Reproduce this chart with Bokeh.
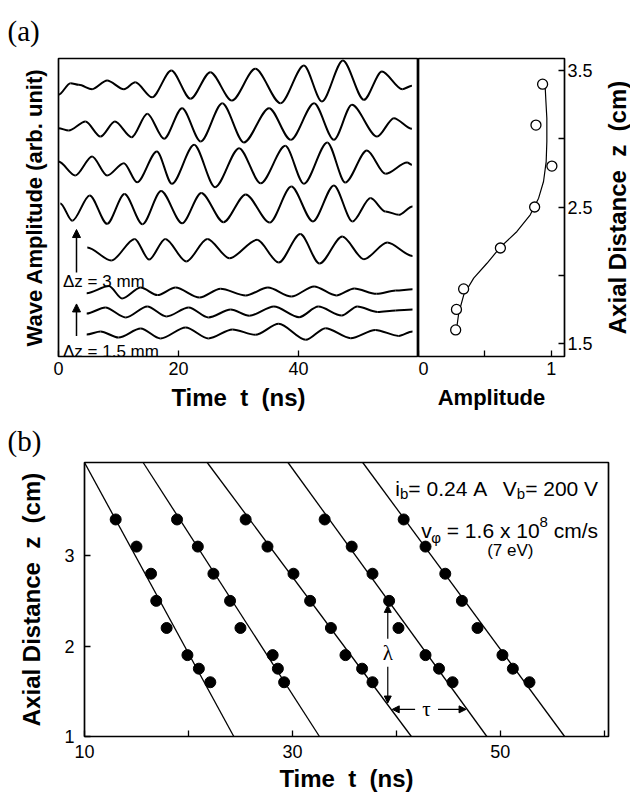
import math
from bokeh.plotting import figure
from bokeh.layouts import column, row
from bokeh.models import Label, Arrow, NormalHead, FixedTicker, Range1d
from bokeh.embed import file_html
from bokeh.resources import INLINE

SANS = "Liberation Sans"
SERIF = "Liberation Serif"
NB = "\u00a0"

# ---------------- data ----------------
# probe positions (axial distance z, cm)
z_probe = [3.4, 3.1, 2.8, 2.5, 2.2, 1.9, 1.75, 1.6]
# (a) right: normalised wave amplitude at each probe
amp_meas = [0.935, 0.885, 1.005, 0.875, 0.617, 0.34, 0.286, 0.28]
amp_fit_a = [0.286, 0.303, 0.341, 0.416, 0.516, 0.617, 0.742, 0.842, 0.905, 0.942, 0.962, 0.967, 0.967, 0.96, 0.955]
amp_fit_z = [1.60, 1.722, 1.857, 1.979, 2.088, 2.206, 2.321, 2.443, 2.565, 2.687, 2.833, 2.98, 3.15, 3.273, 3.37]

# (a) left: wave traces (turning points: time ns, signal arb. unit), one per probe
wave_t0 = [0.0, 2.0, 3.4, 5.6, 8.1, 10.9, 12.8, 15.6, 18.8, 22.0, 25.3, 28.9, 32.8, 37.0, 40.9, 43.9, 47.4, 50.9, 53.9, 57.3, 58.9]
wave_s0 = [-0.78, 0.07, -0.05, -0.37, 0.27, -0.37, 0.14, -0.96, 1.0, -1.07, 0.88, -1.2, 1.12, -1.4, 1.37, -1.27, 1.73, -1.15, 0.93, -0.37, -0.12]
wave_t1 = [0.0, 1.7, 4.5, 7.0, 9.4, 12.2, 14.8, 17.6, 20.6, 23.7, 27.3, 30.9, 35.1, 38.7, 42.6, 45.9, 48.9, 53.1, 55.9, 58.9]
wave_s1 = [-0.23, -0.4, 0.26, -0.84, 0.26, -0.89, 0.83, -1.0, 1.24, -1.2, 1.6, -1.27, 1.24, -1.08, 1.6, -1.08, 1.49, -0.84, 0.51, -0.27]
wave_t2 = [0.0, 2.8, 5.6, 8.1, 10.9, 13.1, 16.4, 18.9, 22.6, 26.1, 30.1, 33.7, 37.8, 40.9, 44.8, 47.8, 51.4, 54.5, 58.1, 58.9]
wave_s2 = [0.33, -0.69, 0.7, -0.69, 0.21, -1.19, 1.07, -1.3, 1.56, -1.55, 1.31, -1.26, 1.48, -1.3, 1.73, -1.21, 1.14, -0.57, 0.26, 0.09]
wave_t3 = [0.3, 2.3, 5.2, 8.1, 11.0, 14.0, 17.1, 20.6, 23.8, 27.5, 31.2, 35.2, 38.8, 42.4, 45.9, 49.0, 52.0, 54.5, 56.7, 59.0]
wave_s3 = [0.26, -1.01, 0.84, -1.23, 0.95, -1.26, 1.17, -1.19, 1.03, -1.11, 0.92, -1.14, 1.5, -1.06, 1.58, -1.06, 0.66, -0.33, -0.57, 0.04]
wave_t4 = [4.8, 8.8, 12.7, 15.1, 17.8, 21.3, 24.8, 28.5, 33.1, 36.7, 40.3, 43.5, 47.3, 50.9, 54.8, 59.0]
wave_s4 = [0.03, -0.92, 0.66, -0.85, 0.66, -0.99, 0.66, -0.75, 0.6, -1.07, 1.02, -1.14, 0.84, -0.82, 0.4, -0.58]
wave_t5 = [4.7, 8.4, 10.6, 13.7, 16.5, 19.5, 23.5, 27.0, 31.2, 34.9, 38.8, 42.6, 46.3, 49.3, 53.0, 56.2, 59.0]
wave_s5 = [-0.31, 0.21, -0.7, 0.1, -0.45, 0.1, -0.63, 0.01, -0.48, 0.1, -0.56, 0.18, -0.48, 0.03, -0.36, -0.12, -0.02]
wave_t6 = [4.7, 7.8, 11.2, 14.8, 18.0, 21.7, 25.0, 28.7, 31.8, 35.9, 40.1, 43.3, 47.2, 49.8, 53.2, 56.2, 59.0]
wave_s6 = [-0.30, 0.14, -0.59, 0.21, -0.52, 0.14, -0.59, -0.01, -0.47, 0.21, -0.57, 0.21, -0.45, 0.21, -0.19, -0.08, -0.01]
wave_t7 = [4.7, 7.0, 10.0, 13.7, 17.0, 21.2, 25.0, 29.0, 32.8, 36.7, 41.2, 44.5, 48.7, 52.8, 56.7, 59.0]
wave_s7 = [-0.34, -0.12, -0.56, 0.1, -0.63, 0.17, -0.63, 0.03, -0.36, 0.44, -0.73, 0.12, -0.61, 0.0, -0.44, -0.12]
wave_t = [wave_t0, wave_t1, wave_t2, wave_t3, wave_t4, wave_t5, wave_t6, wave_t7]
wave_s = [wave_s0, wave_s1, wave_s2, wave_s3, wave_s4, wave_s5, wave_s6, wave_s7]
WAVE_SCALE = 0.1   # signal unit -> axis unit

# (b) phase fronts: arrival time (ns) of a constant phase at each probe
front_t1 = [13.0, 15.0, 16.4, 16.9, 17.9, 19.9, 21.0, 22.1]
front_t2 = [18.9, 20.9, 22.4, 24.0, 25.0, 28.1, 28.6, 29.2]
front_t3 = [25.5, 27.6, 30.1, 31.7, 33.7, 35.1, 36.7, 37.7]
front_t4 = [33.1, 35.7, 37.7, 39.3, 40.2, 42.8, 44.1, 45.4]
front_t5 = [40.7, 42.8, 44.7, 46.3, 47.8, 50.2, 51.2, 52.8]
fronts = [front_t1, front_t2, front_t3, front_t4, front_t5]
# straight-line fits: time at z = fit_z[0] and z = fit_z[1]
fit_z = [4.03, 1.0]
fit_t_top = [10.0, 15.64, 21.8, 29.57, 36.76]
fit_t_bot = [24.36, 32.6, 41.44, 48.7, 56.18]

# tick labels
a_time_ticks = {0: "0", 20: "20", 40: "40", 60: ""}
a_amp_ticks = {0: "0", 0.5: "", 1: "1"}
a_z_ticks = {1.5: "1.5", 2: "", 2.5: "2.5", 3: "", 3.5: "3.5"}
b_time_ticks = {10: "10", 20: "", 30: "30", 40: "", 50: "50", 60: ""}
b_z_ticks = {1: "1", 2: "2", 3: "3"}

TIME_LABEL = "Time" + NB * 2 + "t" + NB * 2 + "(ns)"
Z_LABEL = "Axial" + NB + "Distance" + NB * 2 + "z" + NB * 2 + "(cm)"

# ---------------- helpers ----------------
def frame_style(p):
    p.outline_line_color = "black"
    p.outline_line_width = 1.7
    p.xgrid.visible = False
    p.ygrid.visible = False
    p.background_fill_color = "white"
    p.border_fill_color = "white"


def axis_style(ax, ticks, lab_standoff=5, title_standoff=8, title_size="22px"):
    ax.ticker = FixedTicker(ticks=list(ticks.keys()))
    ax.major_label_overrides = ticks
    ax.major_tick_in = 6
    ax.major_tick_out = 0
    ax.major_tick_line_width = 1.3
    ax.major_tick_line_color = "black"
    ax.minor_tick_line_color = None
    ax.axis_line_color = None
    ax.major_label_text_font = SANS
    ax.major_label_text_font_size = "18px"
    ax.major_label_text_color = "black"
    ax.major_label_standoff = lab_standoff
    ax.axis_label_text_font = SANS
    ax.axis_label_text_font_style = "bold"
    ax.axis_label_text_font_size = title_size
    ax.axis_label_text_color = "black"
    ax.axis_label_standoff = title_standoff


def panel_title(p, text, offset, standoff):
    p.title.text = text
    p.title.text_font = SERIF
    p.title.text_font_size = "29px"
    p.title.text_font_style = "normal"
    p.title.text_color = "black"
    p.title.align = "left"
    p.title.offset = offset
    p.title.standoff = standoff


def lab(p, x, y, text, size, font=SANS, style="normal", align="left",
        baseline="alphabetic", xo=0, yo=0, angle=0.0):
    p.add_layout(Label(x=x, y=y, text=text, x_offset=xo, y_offset=yo,
                       text_font=font, text_font_size=f"{size}px",
                       text_font_style=style, text_align=align,
                       text_baseline=baseline, angle=angle, text_color="black"))


ADV = {' ': 278, NB: 278, '=': 584, '.': 278, 'A': 667, 'V': 667, 'i': 222, 'b': 556,
       'v': 500, 'x': 500, 'c': 500, 'm': 833, '/': 278, 's': 500, 'φ': 620}


def tw(s, size):
    return sum(ADV.get(ch, 556) for ch in s) * size / 1000.0


def seq_right(p, x, y, pieces):
    """pieces: (text, size, dy); laid out so that the last piece ends at x."""
    off = 0.0
    for text, size, dy in reversed(pieces):
        lab(p, x, y, text, size, align="right", xo=-off, yo=dy)
        off += tw(text, size)


def seq_left(p, x, y, pieces):
    off = 0.0
    for text, size, dy in pieces:
        lab(p, x, y, text, size, align="left", xo=off, yo=dy)
        off += tw(text, size)


def smooth_trace(p, ts, ys, k=0.3, **kw):
    """draw a trace through its turning points with horizontal tangents there."""
    x0, x1, y0, y1 = ts[:-1], ts[1:], ys[:-1], ys[1:]
    cx0 = [a + k * (b - a) for a, b in zip(x0, x1)]
    cx1 = [b - k * (b - a) for a, b in zip(x0, x1)]
    p.bezier(x0=x0, y0=y0, x1=x1, y1=y1, cx0=cx0, cy0=y0, cx1=cx1, cy1=y1, **kw)

# ---------------- panel (a), left: wave traces ----------------
zr = (1.405, 3.588)
common = dict(output_backend="svg", toolbar_location=None)
pa = figure(frame_width=360, frame_height=298, min_border_left=58, min_border_right=0,
            min_border_top=57, min_border_bottom=60,
            x_range=Range1d(0, 60), y_range=Range1d(*zr), **common)
frame_style(pa)
panel_title(pa, "(a)", -51, 24)
axis_style(pa.xaxis[0], a_time_ticks, lab_standoff=5, title_standoff=6, title_size="24px")
pa.xaxis.axis_label = TIME_LABEL
axis_style(pa.yaxis[0], {}, title_standoff=12)
pa.yaxis.axis_label = "Wave Amplitude (arb. unit)"
pa.yaxis.major_label_text_font_size = "0px"

for zc, ts, ss in zip(z_probe, wave_t, wave_s):
    smooth_trace(pa, ts, [zc + WAVE_SCALE * s for s in ss], line_width=2.0,
                 line_color="black")

pa.add_layout(Arrow(end=NormalHead(size=8, fill_color="black", line_color="black"),
                    x_start=3.0, y_start=2.02, x_end=3.0, y_end=2.335,
                    line_width=1.5, line_color="black"))
pa.add_layout(Arrow(end=NormalHead(size=8, fill_color="black", line_color="black"),
                    x_start=3.0, y_start=1.555, x_end=3.0, y_end=1.79,
                    line_width=1.5, line_color="black"))
lab(pa, 0.75, 1.958, "Δz = 3 mm", 17)
lab(pa, 0.75, 1.438, "Δz = 1.5 mm", 17)

# ---------------- panel (a), right: amplitude vs z ----------------
pr = figure(frame_width=146, frame_height=298, min_border_left=0, min_border_right=32,
            min_border_top=57, min_border_bottom=60, y_axis_location="right",
            x_range=Range1d(0, 1.1), y_range=Range1d(*zr), **common)
frame_style(pr)
axis_style(pr.xaxis[0], a_amp_ticks, lab_standoff=5, title_standoff=7)
pr.xaxis.axis_label = "Amplitude"
axis_style(pr.yaxis[0], a_z_ticks, lab_standoff=3)
pr.line(amp_fit_a, amp_fit_z, line_width=1.2, color="black")
pr.scatter(amp_meas, z_probe, marker="circle", size=10, fill_color="white",
           line_color="black", line_width=1.3)

# strip holding the right-hand axis title of panel (a)
pz = figure(frame_width=34, frame_height=298, min_border_left=0, min_border_right=0,
            min_border_top=57, min_border_bottom=60, x_axis_location=None,
            y_axis_location=None, x_range=Range1d(0, 1), y_range=Range1d(0, 1), **common)
pz.outline_line_color = None
pz.xgrid.visible = False
pz.ygrid.visible = False
lab(pz, 0.63, 0.5, Z_LABEL, 24, style="bold", align="center", baseline="middle",
    angle=math.pi / 2)

# ---------------- panel (b): phase fronts ----------------
pb = figure(frame_width=524, frame_height=274, min_border_left=84, min_border_right=22,
            min_border_top=46, min_border_bottom=59,
            x_range=Range1d(10, 60.4), y_range=Range1d(1.0, 4.03), **common)
frame_style(pb)
panel_title(pb, "(b)", -77, 11)
axis_style(pb.xaxis[0], b_time_ticks, lab_standoff=8, title_standoff=4, title_size="24px")
pb.xaxis.axis_label = TIME_LABEL
axis_style(pb.yaxis[0], b_z_ticks, lab_standoff=10, title_standoff=16, title_size="24px")
pb.yaxis.axis_label = Z_LABEL

for t0, t1 in zip(fit_t_top, fit_t_bot):
    pb.line([t0, t1], fit_z, line_width=1.3, color="black")
for ft in fronts:
    pb.scatter(ft, z_probe, marker="circle", size=11, color="black")

head = dict(size=7, fill_color="black", line_color="black")
pb.add_layout(Arrow(end=NormalHead(**head), x_start=39.17, y_start=2.08, x_end=39.17,
                    y_end=2.45, line_width=1.2, line_color="black"))
pb.add_layout(Arrow(end=NormalHead(**head), x_start=39.17, y_start=1.77, x_end=39.17,
                    y_end=1.37, line_width=1.2, line_color="black"))
pb.add_layout(Arrow(end=NormalHead(**head), x_start=41.8, y_start=1.30, x_end=39.6,
                    y_end=1.30, line_width=1.2, line_color="black"))
pb.add_layout(Arrow(end=NormalHead(**head), x_start=44.0, y_start=1.30, x_end=46.7,
                    y_end=1.30, line_width=1.2, line_color="black"))
lab(pb, 39.17, 1.925, "λ", 21, font=SERIF, align="center", baseline="middle")
lab(pb, 42.9, 1.30, "τ", 21, font=SERIF, align="center", baseline="middle")

seq_left(pb, 39.9, 3.737, [("i", 21, 0), ("b", 15, -5), ("=" + NB + "0.24" + NB + "A", 21, 0)])
seq_right(pb, 59.4, 3.737, [("V", 21, 0), ("b", 15, -5), ("=" + NB + "200" + NB + "V", 21, 0)])
seq_right(pb, 59.4, 3.28, [("v", 21, 0), ("φ", 15, -7),
                           (NB + "=" + NB + "1.6" + NB + "x" + NB + "10", 21, 0),
                           ("8", 15, 8), (NB + "cm/s", 21, 0)])
lab(pb, 50.96, 3.06, "(7 eV)", 17, align="center")

layout = column(row(pa, pr, pz, spacing=0), pb, spacing=0)
open("out.html", "w").write(file_html(layout, INLINE))
